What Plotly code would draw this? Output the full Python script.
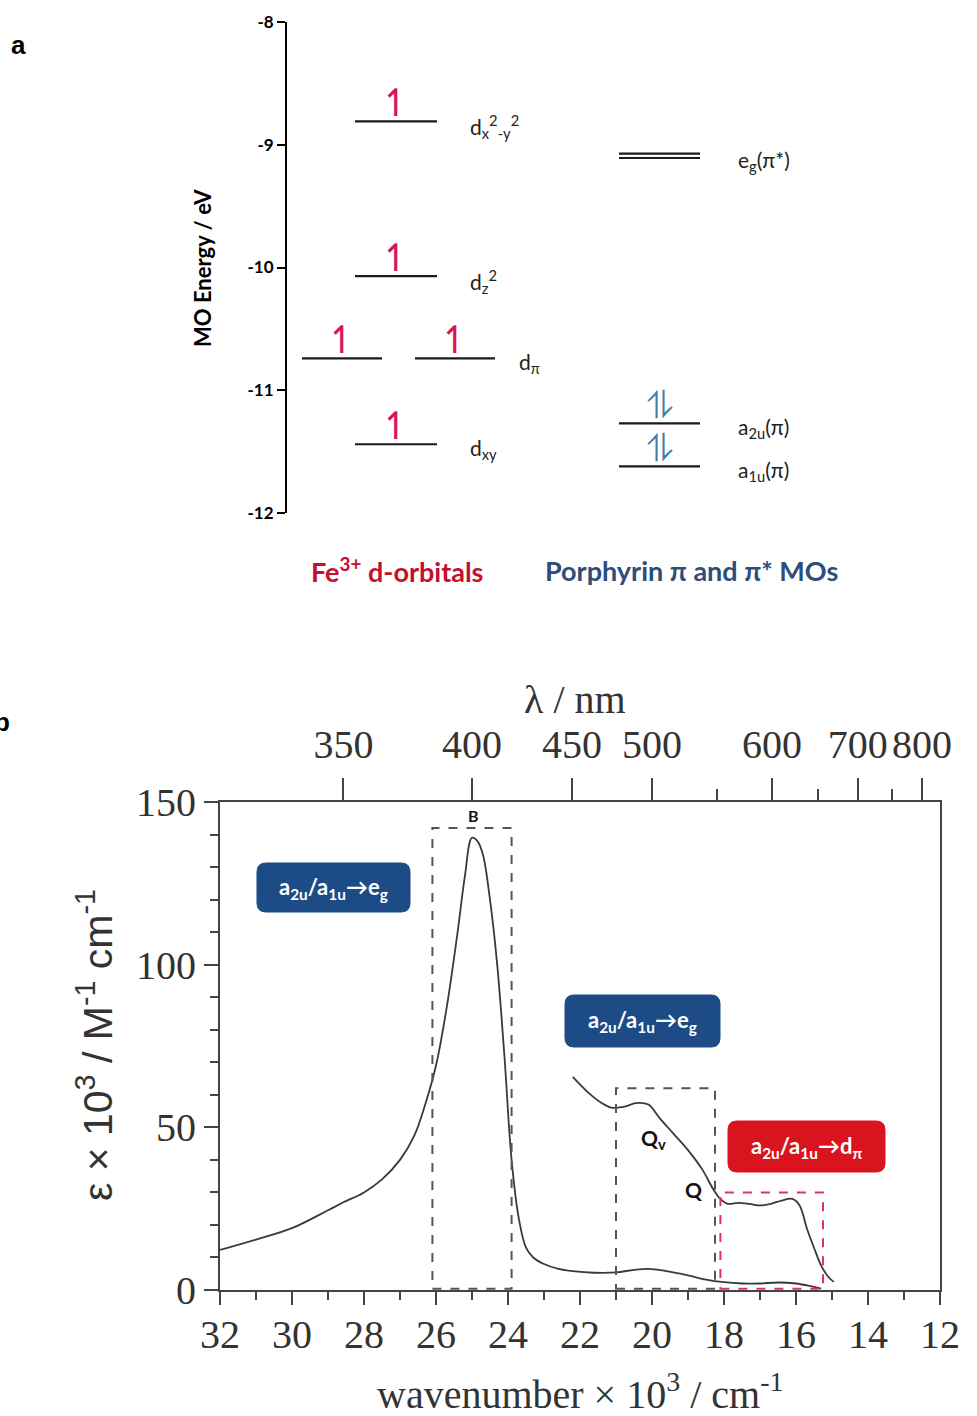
import plotly.graph_objects as go

W, H = 977, 1416


def px(x):
    return x / W


def py(y):
    return 1 - y / H


# ---------------- Panel a data ----------------
fe_orbitals = ["d<sub>x</sub><sup>2</sup><sub>-y</sub><sup>2</sup>", "d<sub>z</sub><sup>2</sup>",
               "d<sub>π</sub>", "d<sub>xy</sub>"]
fe_energies = [-8.81, -10.07, -10.74, -11.44]
fe_degeneracy = [1, 1, 2, 1]
fe_electrons = [1, 1, 1, 1]          # electrons per orbital
por_orbitals = ["e<sub>g</sub>(π*)", "a<sub>2u</sub>(π)", "a<sub>1u</sub>(π)"]
por_energies = [-9.09, -11.27, -11.62]
por_degeneracy = [2, 1, 1]
por_electrons = [0, 2, 2]
energy_ticks = [-8, -9, -10, -11, -12]
energy_ticktext = ["-8", "-9", "-10", "-11", "-12"]

# ---------------- Panel b data ----------------
wavenumber = [32, 31, 30, 29, 28.6, 28, 27.5, 27, 26.6, 26.3, 26.0, 25.7, 25.4, 25.2, 25.0,
              24.85, 24.7, 24.5, 24.3, 24.1, 23.9, 23.7, 23.5, 23.3, 23.0, 22.6, 22.2, 21.6,
              21.0, 20.5, 20.1, 19.6, 19.0, 18.5, 18.0, 17.5, 17.0, 16.5, 16.0, 15.6, 15.3]
epsilon = [12.3, 15.5, 19, 24.5, 26.8, 30, 34, 40, 47.5, 57, 69, 87, 110, 127, 139,
           138, 134, 120, 100, 72, 40, 22, 13, 10, 8, 6.5, 5.8, 5.3,
           5.4, 6.2, 6.5, 5.8, 4.5, 3.2, 2.4, 2.0, 2.0, 2.3, 2.0, 1.2, 0.4]
wavenumber_q = [22.2, 21.8, 21.4, 21.1, 20.8, 20.4, 20.1, 19.8, 19.4, 19.0, 18.6, 18.3, 18.1,
                17.9, 17.6, 17.3, 17.0, 16.7, 16.4, 16.1, 15.9, 15.7, 15.5, 15.3, 15.1, 14.95]
epsilon_q = [65.5, 61, 57.5, 56, 56.3, 57.5, 57, 53, 48, 43, 37, 31, 28,
             26.5, 26.8, 26.5, 26.0, 26.5, 27.5, 28, 26, 19, 13, 7.5, 4, 2.5]
wavenumber_ticks = [32, 30, 28, 26, 24, 22, 20, 18, 16, 14, 12]
epsilon_ticks = [0, 50, 100, 150]
lambda_major = [350, 400, 450, 500, 600, 700, 800]
lambda_minor = [550, 650, 750]
band_names = ["B", "Q<sub>v</sub>", "Q"]
band_wn_from = [26.1, 21.0, 18.1]
band_wn_to = [23.9, 18.25, 15.25]
band_eps_top = [142, 62, 30]
band_colors = ["#555555", "#555555", "#e0306a"]
band_label_wn = [24.95, 19.95, 18.85]
band_label_eps = [146, 46.5, 31]

fig = go.Figure()

# ---------------- Panel a drawing ----------------
fe_single = (355, 437)
fe_pair = [(302, 382), (415, 495)]
por_seg = (619, 700)
level_color = "#1a1a1a"

lx, ly = [], []
arrows = []
for name, e, deg, ne in zip(fe_orbitals, fe_energies, fe_degeneracy, fe_electrons):
    segs = [fe_single] if deg == 1 else fe_pair
    for (a, b) in segs:
        lx += [a, b, None]
        ly += [e, e, None]
        if ne == 1:
            arrows.append(((a + b) / 2, e, "↿", "#d6165a"))
    lab_x = segs[-1][1] + (31 if deg == 1 else 22)
    fig.add_annotation(x=lab_x, y=e, xref="x", yref="y", text=name, showarrow=False,
                       xanchor="left", yanchor="middle", yshift=-5,
                       font=dict(family="Lato", size=21, color="#222"))
for name, e, deg, ne in zip(por_orbitals, por_energies, por_degeneracy, por_electrons):
    a, b = por_seg
    if deg == 2:
        for d in (0.018, -0.018):
            lx += [a, b, None]
            ly += [e + d, e + d, None]
    else:
        lx += [a, b, None]
        ly += [e, e, None]
    if ne == 2:
        arrows.append(((a + b) / 2, e, "⥮", "#3b7ea8"))
    fig.add_annotation(x=b + 36, y=e, xref="x", yref="y", text=name, showarrow=False,
                       xanchor="left", yanchor="middle", yshift=-5,
                       font=dict(family="Lato", size=21, color="#222"))

fig.add_trace(go.Scatter(x=lx, y=ly, mode="lines", line=dict(color=level_color, width=2.2),
                         xaxis="x", yaxis="y", showlegend=False, hoverinfo="skip"))
for (xc, e, sym, col) in arrows:
    fig.add_annotation(x=xc, y=e, xref="x", yref="y", text=sym, showarrow=False,
                       xanchor="center", yanchor="bottom", yshift=-6,
                       font=dict(family="DejaVu Sans", size=38, color=col))

# ---------------- Panel b drawing ----------------
fig.add_trace(go.Scatter(x=wavenumber, y=epsilon, mode="lines", line=dict(color="#3a3a3a", width=1.8),
                         xaxis="x2", yaxis="y2", showlegend=False, line_shape="spline"))
fig.add_trace(go.Scatter(x=wavenumber_q, y=epsilon_q, mode="lines", line=dict(color="#3a3a3a", width=1.8),
                         xaxis="x2", yaxis="y2", showlegend=False, line_shape="spline"))

for name, w0, w1, top, col, lwn, leps in zip(band_names, band_wn_from, band_wn_to, band_eps_top,
                                              band_colors, band_label_wn, band_label_eps):
    fig.add_shape(type="rect", xref="x2", yref="y2", x0=w0, x1=w1, y0=0.4, y1=top,
                  line=dict(color=col, width=2, dash="dash"))
    fig.add_annotation(x=lwn, y=leps, xref="x2", yref="y2", text="<b>%s</b>" % name, showarrow=False,
                       xanchor="center", yanchor="middle",
                       font=dict(family="Lato", size=16 if name == "B" else 21, color="#111"))

# top wavelength axis (dummy trace to activate it)
fig.add_trace(go.Scatter(x=[None], y=[None], xaxis="x3", yaxis="y2", showlegend=False))


def rrect(x0, y0, x1, y1, r):
    pts = [
        "M %f %f" % (px(x0 + r), py(y0)),
        "L %f %f" % (px(x1 - r), py(y0)),
        "Q %f %f %f %f" % (px(x1), py(y0), px(x1), py(y0 + r)),
        "L %f %f" % (px(x1), py(y1 - r)),
        "Q %f %f %f %f" % (px(x1), py(y1), px(x1 - r), py(y1)),
        "L %f %f" % (px(x0 + r), py(y1)),
        "Q %f %f %f %f" % (px(x0), py(y1), px(x0), py(y1 - r)),
        "L %f %f" % (px(x0), py(y0 + r)),
        "Q %f %f %f %f" % (px(x0), py(y0), px(x0 + r), py(y0)),
        "Z",
    ]
    return " ".join(pts)


boxes = [
    (257, 863, 410, 912, "#1d4b86", "a<sub>2u</sub>/a<sub>1u</sub>→e<sub>g</sub>"),
    (565, 995, 720, 1047, "#1d4b86", "a<sub>2u</sub>/a<sub>1u</sub>→e<sub>g</sub>"),
    (728, 1121, 885, 1172, "#d9141e", "a<sub>2u</sub>/a<sub>1u</sub>→d<sub>π</sub>"),
]
for (x0, y0, x1, y1, col, txt) in boxes:
    fig.add_shape(type="path", xref="paper", yref="paper", path=rrect(x0, y0, x1, y1, 9),
                  fillcolor=col, line=dict(color=col, width=1), layer="above")
    fig.add_annotation(x=px((x0 + x1) / 2), y=py((y0 + y1) / 2), xref="paper", yref="paper",
                       text=txt, showarrow=False, xanchor="center", yanchor="middle",
                       font=dict(family="Lato", size=22, color="white", weight="bold"))

# ---------------- text labels ----------------
def label(x, y, text, font, angle=0, xanchor="center"):
    fig.add_annotation(x=px(x), y=py(y), xref="paper", yref="paper", text=text, showarrow=False,
                       xanchor=xanchor, yanchor="middle", textangle=angle, font=font)


label(18, 45, "<b>a</b>", dict(family="Liberation Sans", size=26, color="black"))
label(12, 722, "<b>b</b>", dict(family="Liberation Sans", size=26, color="black"), xanchor="right")
label(203, 268, "<b>MO Energy / eV</b>", dict(family="Lato", size=22, color="black"), angle=-90)
label(397, 570, "<b>Fe<sup>3+</sup> d-orbitals</b>", dict(family="Lato", size=27, color="#c40f2f"))
label(691, 570, "<b>Porphyrin π and π* MOs</b>", dict(family="Lato", size=27, color="#2d4d7a"))
label(575, 699, "λ / nm", dict(family="Liberation Serif", size=40, color="#333"))
label(580, 1391, "wavenumber × 10<sup>3</sup> / cm<sup>-1</sup>",
      dict(family="Liberation Serif", size=40, color="#333"))
label(95, 1045, "ε × 10<sup>3</sup> / M<sup>-1</sup> cm<sup>-1</sup>",
      dict(family="Liberation Sans", size=41, color="#333"), angle=-90)

serif_tick = dict(family="Liberation Serif", size=40, color="#333")
axcol = "#444"

fig.update_layout(
    width=W, height=H, margin=dict(l=0, r=0, t=0, b=0, autoexpand=False),
    paper_bgcolor="white", plot_bgcolor="white", showlegend=False,
    xaxis=dict(domain=[0, 1], range=[0, W], visible=False, anchor="y", fixedrange=True,
               automargin=False),
    yaxis=dict(domain=[py(513), py(22)], range=[-12, -8], anchor="free", position=px(286),
               showline=True, linecolor="black", linewidth=2, ticks="outside", ticklen=8,
               tickwidth=2, tickcolor="black", tickvals=energy_ticks, ticktext=energy_ticktext,
               showgrid=False, zeroline=False, automargin=False,
               tickfont=dict(family="Lato", size=17, color="black", weight="bold")),
    xaxis2=dict(domain=[px(220), px(940)], range=[32, 12], anchor="y2", automargin=False,
                showline=True, linecolor=axcol, linewidth=2, mirror=True,
                ticks="outside", ticklen=13, tickwidth=1.5, tickcolor=axcol,
                tickvals=wavenumber_ticks, tickfont=serif_tick, showgrid=False, zeroline=False,
                ticklabelstandoff=-5,
                minor=dict(dtick=1, ticks="outside", ticklen=8, tickcolor=axcol, tickwidth=1.5)),
    yaxis2=dict(domain=[py(1290), py(802)], range=[0, 150], anchor="x2", automargin=False,
                showline=True, linecolor=axcol, linewidth=2, mirror=True,
                ticks="outside", ticklen=14, tickwidth=1.5, tickcolor=axcol,
                tickvals=epsilon_ticks, tickfont=serif_tick, showgrid=False, zeroline=False,
                minor=dict(dtick=10, ticks="outside", ticklen=8, tickcolor=axcol, tickwidth=1.5)),
    xaxis3=dict(overlaying="x2", side="top", range=[32, 12], anchor="y2", automargin=False,
                showline=True, linecolor=axcol, linewidth=2,
                ticks="outside", ticklen=22, tickwidth=1.5, tickcolor=axcol,
                tickmode="array", tickvals=[1e4 / l for l in lambda_major],
                ticktext=[str(l) for l in lambda_major], tickfont=serif_tick,
                showgrid=False, zeroline=False, ticklabelstandoff=4,
                minor=dict(tickmode="array", tickvals=[1e4 / l for l in lambda_minor],
                           ticks="outside", ticklen=11, tickcolor=axcol, tickwidth=1.5)),
)

fig.write_html("out.html", post_script="document.body.style.margin='0px';",
               config={"displayModeBar": False})
